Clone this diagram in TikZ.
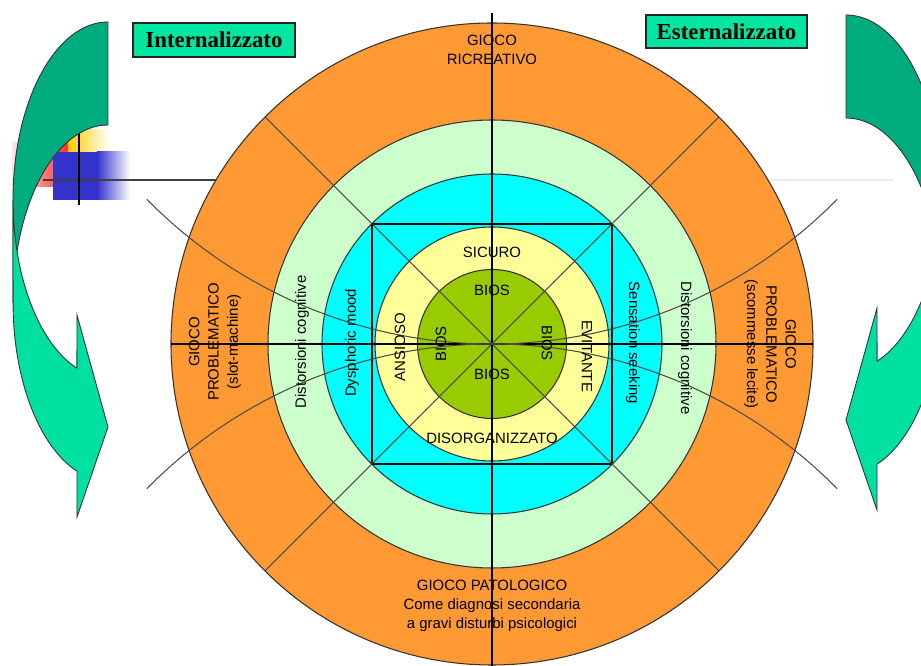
\documentclass[tikz,border=0pt]{standalone}
\usepackage{fontspec}
\setmainfont{Liberation Sans}
\newfontfamily\titlefont{Liberation Serif}
\definecolor{gioco}{RGB}{255,153,51}
\definecolor{mint}{RGB}{204,255,204}
\definecolor{aqua}{RGB}{0,255,255}
\definecolor{paleyellow}{RGB}{255,255,153}
\definecolor{bios}{RGB}{153,204,0}
\definecolor{arrowdark}{RGB}{0,172,126}
\definecolor{arrowlight}{RGB}{0,224,160}
\definecolor{tagfill}{RGB}{0,230,160}
\definecolor{logoblue}{RGB}{51,51,204}
\definecolor{logogold}{RGB}{255,204,0}

\begin{document}
\begin{tikzpicture}[
  lbl/.style={font=\fontsize{8.5}{11}\selectfont, align=center, inner sep=1pt},
  ring/.style={draw=black!80, line width=0.6pt},
  axis/.style={black, line width=0.8pt},
  fan/.style={black!70, line width=0.6pt},
  tag/.style={draw=black!85, line width=0.8pt, fill=tagfill, minimum width=3.24cm,
    minimum height=0.68cm, inner sep=0pt, font=\titlefont\bfseries\fontsize{13}{15}\selectfont},
  back/.style={fill=arrowdark, draw=black!80, line width=0.5pt},
  front/.style={fill=arrowlight, draw=black!80, line width=0.5pt}]
\useasboundingbox (-9.84,-6.44) rectangle (8.58,6.88);
\clip (-9.84,-6.44) rectangle (8.58,6.88);
% Template logo
\shade[left color=red!10, right color=red!85] (-9.6,3.14) rectangle (-8.44,4.02);
\shade[left color=logogold, right color=white] (-8.48,3.84) rectangle (-7.64,4.28);
\fill[logoblue] (-8.78,2.88) rectangle (-7.9,3.84);
\shade[left color=logoblue, right color=white] (-7.9,2.88) rectangle (-7.24,3.84);
\draw[black!75, line width=0.6pt] (-8.98,3.28) -- (-5.52,3.28);
\draw[black!8, line width=0.6pt] (5.56,3.28) -- (8.02,3.28);
\draw[line width=1.7pt] (-8.26,2.78) -- (-8.26,4.22);
% Curved arrows (left one mirrored on the right)
\foreach \s/\px/\py in {1/-7.68/6.44, -1/7.08/6.58} {
  \begin{scope}[shift={(\px,\py)}, xscale=\s]
    \path[back] (-1.9,-3.56) arc[start angle=180, end angle=90, x radius=1.9, y radius=3.56]
      -- (0,-2.06) arc[start angle=90, end angle=180, x radius=1.9, y radius=3.56] -- cycle;
    \path[front] (-1.9,-3.56) arc[start angle=180, end angle=250.9, x radius=1.9, y radius=3.56]
      -- (-0.62,-5.86) -- (0,-8.1) -- (-0.62,-9.9) -- (-0.62,-8.984)
      arc[start angle=250.9, end angle=180, x radius=1.9, y radius=3.56] -- cycle;
  \end{scope}
}
% Rings
\draw[ring, fill=gioco] (0,0) circle (6.42);
\draw[ring, fill=mint] (0,0) circle (4.48);
\draw[ring, fill=aqua] (0,0) circle (3.40);
\draw[ring, fill=paleyellow] (0,0) circle (2.34);
\draw[line width=0.9pt] (-2.4,-2.4) rectangle (2.4,2.4);
\draw[ring, fill=bios] (0,0) circle (1.49);
% Axes, diagonals and fan arcs
\draw[axis] (0,6.62) -- (0,-6.44);
\draw[axis] (-6.42,0) -- (6.42,0);
\foreach \a in {45,135,225,315} {
  \draw[fan] (0,0) -- (\a:6.42);
}
\draw[fan] (0,9.68) ++(224.5:9.68) arc[start angle=224.5, end angle=315.5, radius=9.68];
\draw[fan] (0,-9.68) ++(135.5:9.68) arc[start angle=135.5, end angle=44.5, radius=9.68];
% Tags
\node[tag] (intern) at (-5.56,6.08) {Internalizzato};
\node[tag, minimum width=3.22cm, minimum height=0.66cm] (estern) at (4.69,6.25) {Esternalizzato};
% Outer ring
\node[lbl] (ricreativo) at (0,5.88) {GIOCO\\RICREATIVO};
\node[lbl] (patologico) at (0,-5.24) {GIOCO PATOLOGICO\\Come diagnosi secondaria\\a gravi disturbi psicologici};
\node[lbl, rotate=90] (slot) at (-5.54,0.04) {GIOCO\\PROBLEMATICO\\(slot-machine)};
\node[lbl, rotate=-90] (scommesse) at (5.56,0) {GIOCO\\PROBLEMATICO\\(scommesse lecite)};
% Middle rings
\node[lbl, rotate=90] (distL) at (-3.8,0.04) {Distorsioni cognitive};
\node[lbl, rotate=-90] (distR) at (3.86,-0.08) {Distorsioni cognitive};
\node[lbl, rotate=90] (dysphoric) at (-2.8,0.02) {Dysphoric mood};
\node[lbl, rotate=-90] (sensation) at (2.82,0.02) {Sensation seeking};
% Attachment styles
\node[lbl] (sicuro) at (0,1.84) {SICURO};
\node[lbl] (disorg) at (0,-1.88) {DISORGANIZZATO};
\node[lbl, rotate=90] (ansioso) at (-1.84,-0.06) {ANSIOSO};
\node[lbl, rotate=-90] (evitante) at (1.9,-0.24) {EVITANTE};
% Core
\node[lbl] (biosN) at (0,1.08) {BIOS};
\node[lbl] (biosS) at (0,-0.6) {BIOS};
\node[lbl, rotate=90] (biosW) at (-1.02,0) {BIOS};
\node[lbl, rotate=-90] (biosE) at (1.1,0.02) {BIOS};
\end{tikzpicture}
\end{document}
